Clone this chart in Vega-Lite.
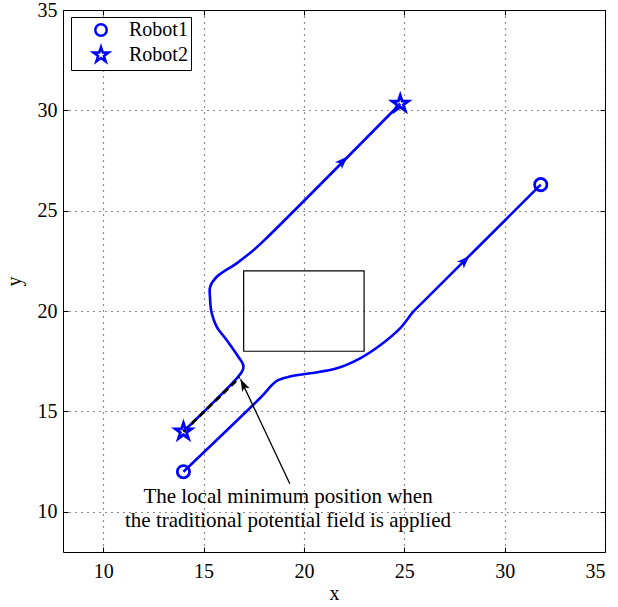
{
  "$schema": "https://vega.github.io/schema/vega-lite/v6.json",
  "width": 542,
  "height": 542,
  "autosize": {"type": "none"},
  "padding": {"left": 63, "top": 10, "right": 13, "bottom": 55},
  "config": {
    "view": {"stroke": "black", "strokeWidth": 1},
    "font": "Liberation Serif",
    "axis": {
      "labelFont": "Liberation Serif",
      "labelFontSize": 20,
      "labelColor": "black",
      "titleFont": "Liberation Serif",
      "titleFontSize": 20,
      "titleFontWeight": "normal",
      "titleColor": "black",
      "domain": false,
      "tickColor": "black",
      "tickSize": -5,
      "gridColor": "black",
      "gridDash": [1, 5],
      "gridWidth": 1.2,
      "gridOpacity": 0.9
    },
    "legend": {
      "orient": "none",
      "legendX": 8,
      "legendY": 7,
      "strokeColor": "black",
      "fillColor": "white",
      "padding": 3,
      "rowPadding": 1,
      "labelFont": "Liberation Serif",
      "labelFontSize": 20,
      "labelColor": "black",
      "symbolStrokeColor": "#0000ff",
      "symbolFillColor": "transparent",
      "symbolStrokeWidth": 2.5,
      "symbolSize": 130,
      "symbolOffset": 17,
      "labelOffset": 18,
      "cornerRadius": 0
    }
  },
  "datasets": {
    "obstacle": [{"x1": 17, "x2": 23, "y1": 18, "y2": 22}],
    "paths": [
      {"robot": "Robot1", "order": 1, "x": 14, "y": 12},
      {"robot": "Robot1", "order": 2, "x": 17.82, "y": 15.67},
      {"robot": "Robot1", "order": 3, "x": 18.65, "y": 16.52},
      {"robot": "Robot1", "order": 4, "x": 19.31, "y": 16.74},
      {"robot": "Robot1", "order": 5, "x": 20.31, "y": 16.9},
      {"robot": "Robot1", "order": 6, "x": 21.64, "y": 17.15},
      {"robot": "Robot1", "order": 7, "x": 22.8, "y": 17.65},
      {"robot": "Robot1", "order": 8, "x": 23.8, "y": 18.3},
      {"robot": "Robot1", "order": 9, "x": 24.79, "y": 19.14},
      {"robot": "Robot1", "order": 10, "x": 25.45, "y": 19.97},
      {"robot": "Robot1", "order": 11, "x": 25.95, "y": 20.47},
      {"robot": "Robot1", "order": 12, "x": 31.8, "y": 26.3},
      {"robot": "Robot2", "order": 1, "x": 14, "y": 14},
      {"robot": "Robot2", "order": 2, "x": 16.7, "y": 16.7},
      {"robot": "Robot2", "order": 3, "x": 16.95, "y": 17.05},
      {"robot": "Robot2", "order": 4, "x": 16.98, "y": 17.31},
      {"robot": "Robot2", "order": 5, "x": 16.73, "y": 17.73},
      {"robot": "Robot2", "order": 6, "x": 16.15, "y": 18.56},
      {"robot": "Robot2", "order": 7, "x": 15.66, "y": 19.22},
      {"robot": "Robot2", "order": 8, "x": 15.41, "y": 19.89},
      {"robot": "Robot2", "order": 9, "x": 15.32, "y": 20.71},
      {"robot": "Robot2", "order": 10, "x": 15.33, "y": 21.21},
      {"robot": "Robot2", "order": 11, "x": 15.66, "y": 21.71},
      {"robot": "Robot2", "order": 12, "x": 16.65, "y": 22.38},
      {"robot": "Robot2", "order": 13, "x": 17.5, "y": 23.05},
      {"robot": "Robot2", "order": 14, "x": 18.1, "y": 23.6},
      {"robot": "Robot2", "order": 15, "x": 24.8, "y": 30.33}
    ],
    "traditional": [
      {"order": 1, "x": 14, "y": 14},
      {"order": 2, "x": 16.8, "y": 16.7}
    ],
    "direction": [
      {"robot": "Robot1", "x": 27.96, "y": 22.46},
      {"robot": "Robot2", "x": 21.89, "y": 27.42}
    ],
    "markers": [
      {"robot": "Robot1", "x": 14, "y": 12},
      {"robot": "Robot1", "x": 31.8, "y": 26.3},
      {"robot": "Robot2", "x": 14, "y": 14},
      {"robot": "Robot2", "x": 24.8, "y": 30.33}
    ],
    "annotation": [{"x": 19.3, "y": 11.4, "x2": 16.85, "y2": 16.6}],
    "labels": [
      {"line": 1, "x": 19.21, "y": 10.73, "text": "The local minimum position when"},
      {"line": 2, "x": 19.21, "y": 9.54, "text": "the traditional potential field is applied"}
    ]
  },
  "layer": [
    {
      "data": {"name": "obstacle"},
      "mark": {"type": "rect", "fill": "white", "fillOpacity": 0, "stroke": "black", "strokeWidth": 1.2},
      "encoding": {
        "x": {"field": "x1", "type": "quantitative", "scale": {"domain": [8, 35], "nice": false, "zero": false},
              "axis": {"orient": "bottom", "values": [10, 15, 20, 25, 30, 35], "grid": true, "title": "x", "labelPadding": 14, "titlePadding": 2}},
        "x2": {"field": "x2"},
        "y": {"field": "y1", "type": "quantitative", "scale": {"domain": [8, 35], "nice": false, "zero": false},
              "axis": {"orient": "left", "values": [10, 15, 20, 25, 30, 35], "grid": true, "title": "y", "labelPadding": 11, "titlePadding": 13}},
        "y2": {"field": "y2"}
      }
    },
    {
      "data": {"name": "paths"},
      "mark": {"type": "line", "color": "#0000ff", "strokeWidth": 2.6, "interpolate": "catmull-rom"},
      "encoding": {
        "x": {"field": "x", "type": "quantitative",
              "axis": {"orient": "top", "values": [10, 15, 20, 25, 30, 35], "labels": false, "grid": false, "title": null}},
        "y": {"field": "y", "type": "quantitative",
              "axis": {"orient": "right", "values": [10, 15, 20, 25, 30, 35], "labels": false, "grid": false, "title": null}},
        "detail": {"field": "robot"},
        "order": {"field": "order", "type": "quantitative"}
      }
    },
    {
      "data": {"name": "traditional"},
      "mark": {"type": "line", "color": "black", "strokeWidth": 2.8, "strokeDash": [7, 4]},
      "encoding": {
        "x": {"field": "x", "type": "quantitative", "axis": null},
        "y": {"field": "y", "type": "quantitative", "axis": null},
        "order": {"field": "order", "type": "quantitative"}
      }
    },
    {
      "data": {"name": "direction"},
      "mark": {"type": "point", "shape": "M0,-1L0.6,0.6L0,0.2L-0.6,0.6Z", "angle": 45, "size": 260, "filled": true, "color": "#0000ff", "opacity": 1},
      "encoding": {
        "x": {"field": "x", "type": "quantitative", "axis": null},
        "y": {"field": "y", "type": "quantitative", "axis": null}
      }
    },
    {
      "data": {"name": "annotation"},
      "mark": {"type": "rule", "color": "black", "strokeWidth": 1.3},
      "encoding": {
        "x": {"field": "x", "type": "quantitative", "axis": null},
        "y": {"field": "y", "type": "quantitative", "axis": null},
        "x2": {"field": "x2"},
        "y2": {"field": "y2"}
      }
    },
    {
      "data": {"name": "annotation"},
      "mark": {"type": "point", "shape": "M0,0L0.6,1.7L0,1.3L-0.6,1.7Z", "angle": 334, "size": 200, "filled": true, "color": "black", "opacity": 1},
      "encoding": {
        "x": {"field": "x2", "type": "quantitative", "axis": null},
        "y": {"field": "y2", "type": "quantitative", "axis": null}
      }
    },
    {
      "data": {"name": "markers"},
      "mark": {"type": "point", "filled": false, "color": "#0000ff", "strokeWidth": 2.8, "size": 150, "opacity": 1},
      "encoding": {
        "x": {"field": "x", "type": "quantitative", "axis": null},
        "y": {"field": "y", "type": "quantitative", "axis": null},
        "shape": {"field": "robot", "type": "nominal",
                  "scale": {"domain": ["Robot1", "Robot2"], "range": ["circle", "M0,-1.4L0.315,-0.433L1.331,-0.433L0.508,0.165L0.823,1.133L0,0.535L-0.823,1.133L-0.508,0.165L-1.331,-0.433L-0.315,-0.433Z"]},
                  "legend": {"title": null}}
      }
    },
    {
      "data": {"name": "labels"},
      "mark": {"type": "text", "font": "Liberation Serif", "fontSize": 21, "color": "black", "align": "center", "baseline": "middle"},
      "encoding": {
        "x": {"field": "x", "type": "quantitative", "axis": null},
        "y": {"field": "y", "type": "quantitative", "axis": null},
        "text": {"field": "text"}
      }
    }
  ]
}
